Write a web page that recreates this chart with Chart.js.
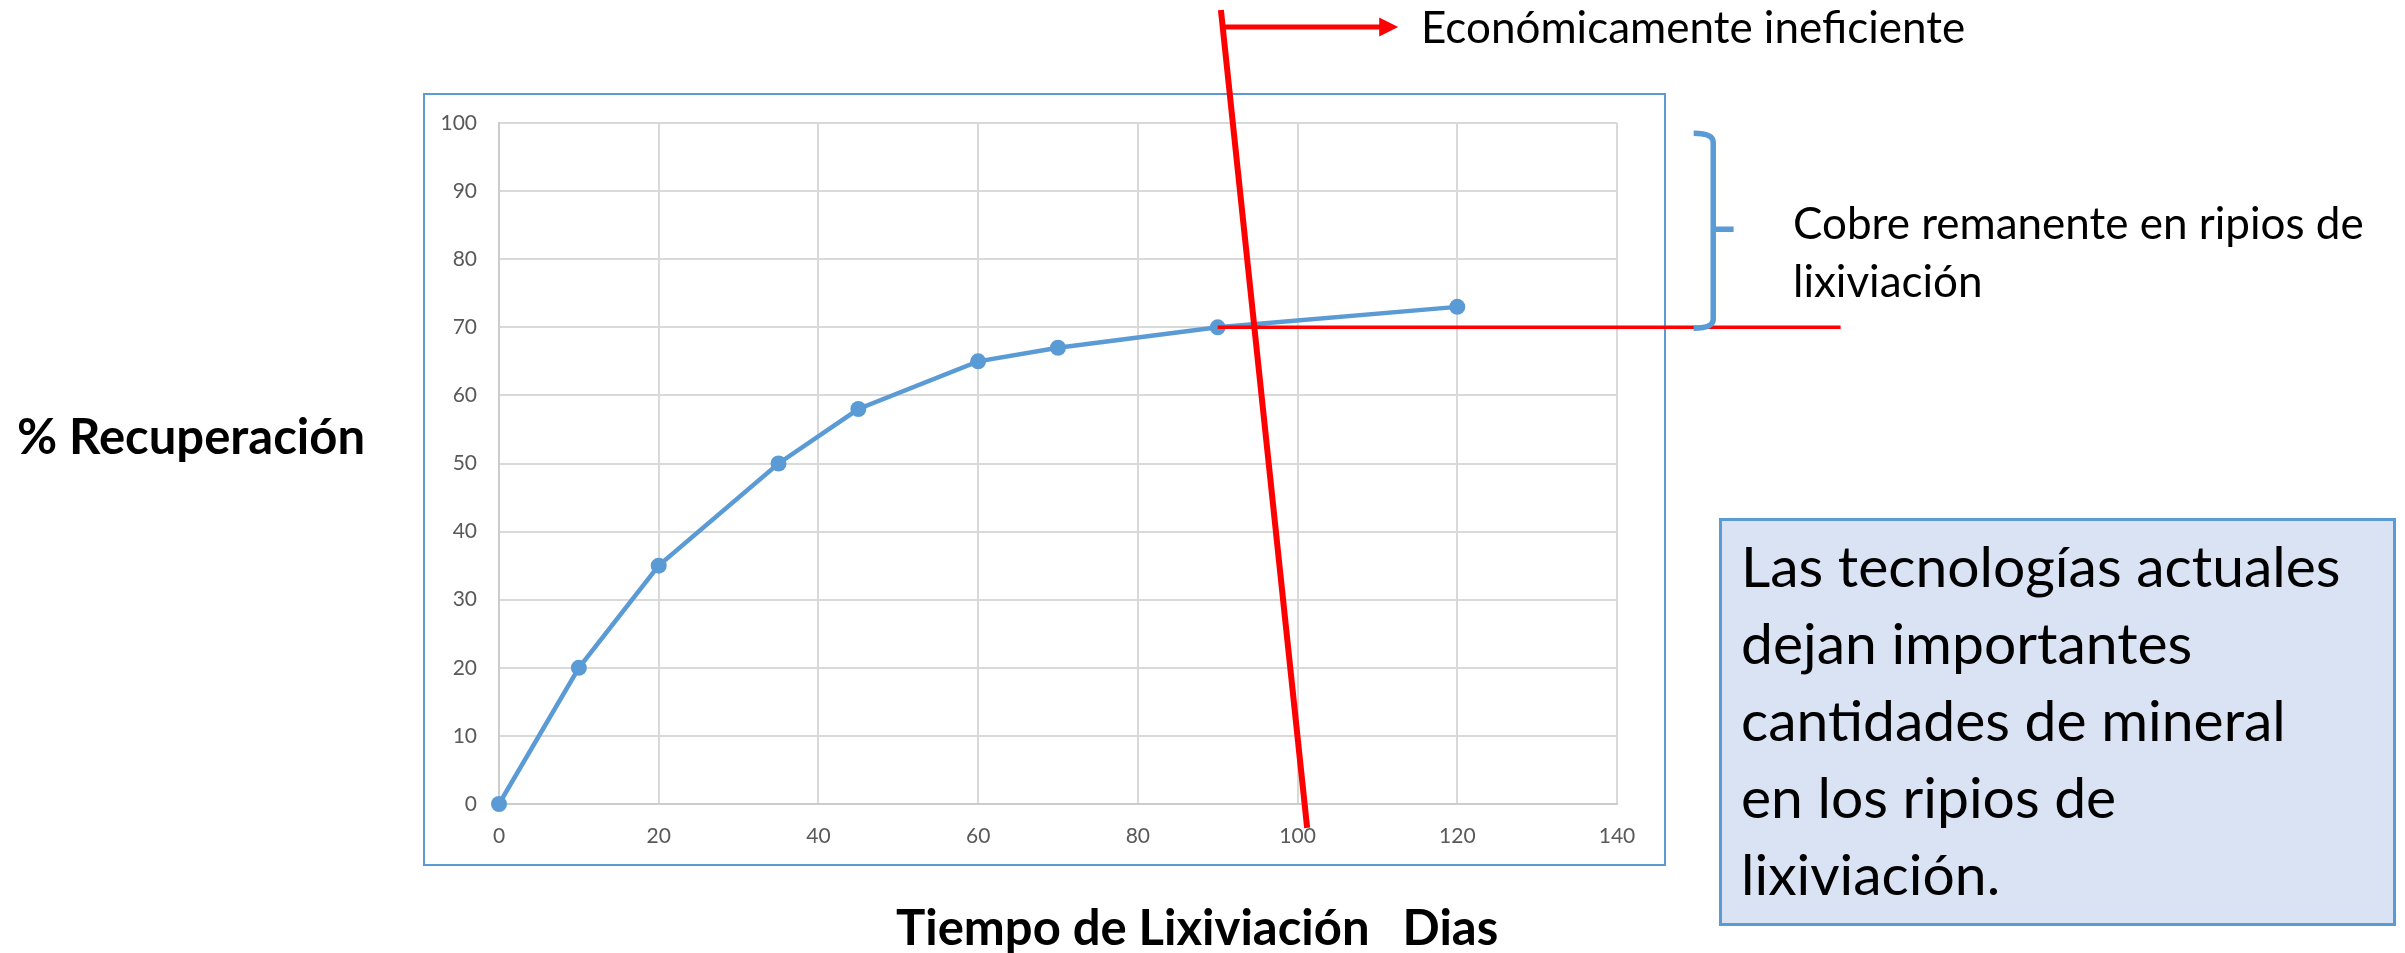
<!DOCTYPE html>
<html>
<head>
<meta charset="utf-8">
<script src="https://cdn.jsdelivr.net/npm/chart.js@4"></script>
<style>
  html, body { margin: 0; padding: 0; background: #fff; }
  body { width: 2405px; height: 953px; position: relative; overflow: hidden; font-family: Lato, "Noto Sans", sans-serif; color: #000; }
  #marco { position: absolute; left: 423px; top: 93px; width: 1239px; height: 769px; border: 2px solid #5b9bd5; }
  #grafico { position: absolute; left: 0; top: 0; }
  .txt { position: absolute; white-space: pre; }
  #ineficiente { left: 1421px; top: 4px; font-size: 44px; line-height: 1; }
  #cobre { left: 1793px; top: 193px; font-size: 44px; line-height: 58px; }
  #ytitulo { left: 17px; top: 411px; font-size: 49px; font-weight: bold; line-height: 1; }
  #xtitulo { left: 896px; top: 902px; font-size: 49px; font-weight: bold; line-height: 1; }
  #xtitulo span { margin-left: 33px; }
  #caja { position: absolute; left: 1719px; top: 518px; width: 671px; height: 402px; border: 3px solid #5b9bd5; background: #dae3f3; }
  #caja div { padding: 6px 0 0 19px; font-size: 57px; line-height: 77px; }
</style>
</head>
<body>
<div id="marco"></div>
<canvas id="grafico" width="2405" height="953"></canvas>
<div class="txt" id="ineficiente">Económicamente ineficiente</div>
<div class="txt" id="cobre">Cobre remanente en ripios de
lixiviación</div>
<div class="txt" id="ytitulo">% Recuperación</div>
<div class="txt" id="xtitulo">Tiempo de Lixiviación<span>Dias</span></div>
<div id="caja"><div>Las tecnologías actuales<br>dejan importantes<br>cantidades de mineral<br>en los ripios de<br>lixiviación.</div></div>
<script>
// datos
const dias = [0, 10, 20, 35, 45, 60, 70, 90, 120];
const recuperacion = [0, 20, 35, 50, 58, 65, 67, 70, 73];
const xTicks = [0, 20, 40, 60, 80, 100, 120, 140];
const yTicks = [0, 10, 20, 30, 40, 50, 60, 70, 80, 90, 100];

// anotaciones en unidades del grafico (dias, %)
const corteInicio = [90.4, 116.6];
const corteFin = [101.2, -3.5];
const flechaY = 114.1;
const flechaFin = 112.6;
const nivelY = 70;
const nivelDesde = 90;
const nivelHasta = 168;
const llaveArriba = 98.5;
const llaveAbajo = 69.85;
const llaveMedio = 84.4;
const llaveX = [149.6, 152.05, 154.6];

const puntos = dias.map((d, i) => ({ x: d, y: recuperacion[i] }));

const anotaciones = {
  id: 'anotaciones',
  afterDatasetsDraw(chart) {
    const ctx = chart.ctx;
    const sx = chart.scales.x, sy = chart.scales.y;
    const px = v => sx.getPixelForValue(v);
    const py = v => sy.getPixelForValue(v);
    ctx.save();
    ctx.strokeStyle = '#ff0000';
    ctx.fillStyle = '#ff0000';
    ctx.lineCap = 'butt';

    // linea horizontal al 70 %
    ctx.lineWidth = 3.5;
    ctx.beginPath();
    ctx.moveTo(px(nivelDesde), py(nivelY));
    ctx.lineTo(px(nivelHasta), py(nivelY));
    ctx.stroke();

    // linea de corte inclinada
    ctx.lineWidth = 6;
    ctx.beginPath();
    ctx.moveTo(px(corteInicio[0]), py(corteInicio[1]));
    ctx.lineTo(px(corteFin[0]), py(corteFin[1]));
    ctx.stroke();

    // flecha
    const ay = py(flechaY);
    const ax0 = px(corteInicio[0]) + 2;
    const ax1 = px(flechaFin);
    ctx.lineWidth = 5;
    ctx.beginPath();
    ctx.moveTo(ax0, ay);
    ctx.lineTo(ax1 - 16, ay);
    ctx.stroke();
    ctx.beginPath();
    ctx.moveTo(ax1 - 19, ay - 9.5);
    ctx.lineTo(ax1, ay);
    ctx.lineTo(ax1 - 19, ay + 9.5);
    ctx.closePath();
    ctx.fill();

    // llave azul
    const top = py(llaveArriba), bot = py(llaveAbajo), mid = py(llaveMedio);
    const hx = px(llaveX[0]), cx = px(llaveX[1]), nx = px(llaveX[2]);
    ctx.strokeStyle = '#5b9bd5';
    ctx.lineWidth = 5.5;
    ctx.beginPath();
    ctx.moveTo(hx, top);
    ctx.quadraticCurveTo(cx, top, cx, top + 9);
    ctx.lineTo(cx, bot - 9);
    ctx.quadraticCurveTo(cx, bot, hx, bot);
    ctx.stroke();
    ctx.beginPath();
    ctx.moveTo(cx, mid);
    ctx.lineTo(nx, mid);
    ctx.stroke();
    ctx.restore();
  }
};

const tickFont = { family: 'Lato', size: 21 };

new Chart(document.getElementById('grafico'), {
  type: 'line',
  data: {
    datasets: [{
      data: puntos,
      borderColor: '#5b9bd5',
      backgroundColor: '#5b9bd5',
      borderWidth: 4.5,
      pointRadius: 8,
      pointBorderWidth: 0,
      pointBackgroundColor: '#5b9bd5',
      tension: 0,
      clip: false
    }]
  },
  options: {
    responsive: false,
    animation: false,
    layout: { padding: { left: 423, top: 123, right: 788, bottom: 99 } },
    plugins: {
      legend: { display: false },
      tooltip: { enabled: false }
    },
    scales: {
      x: {
        type: 'linear',
        min: 0,
        max: 140,
        afterBuildTicks: s => { s.ticks = xTicks.map(v => ({ value: v })); },
        afterFit: s => { s.height = 50; },
        ticks: { color: '#595959', font: tickFont, padding: 20 },
        grid: { color: '#d9d9d9', lineWidth: 2, drawTicks: false },
        border: { color: '#cccccc', width: 2 }
      },
      y: {
        min: 0,
        max: 100,
        afterBuildTicks: s => { s.ticks = yTicks.map(v => ({ value: v })); },
        afterFit: s => { s.width = 76; },
        ticks: { color: '#595959', font: tickFont, padding: 22 },
        grid: { color: '#d9d9d9', lineWidth: 2, drawTicks: false },
        border: { color: '#cccccc', width: 2 }
      }
    }
  },
  plugins: [anotaciones]
});
</script>
</body>
</html>
